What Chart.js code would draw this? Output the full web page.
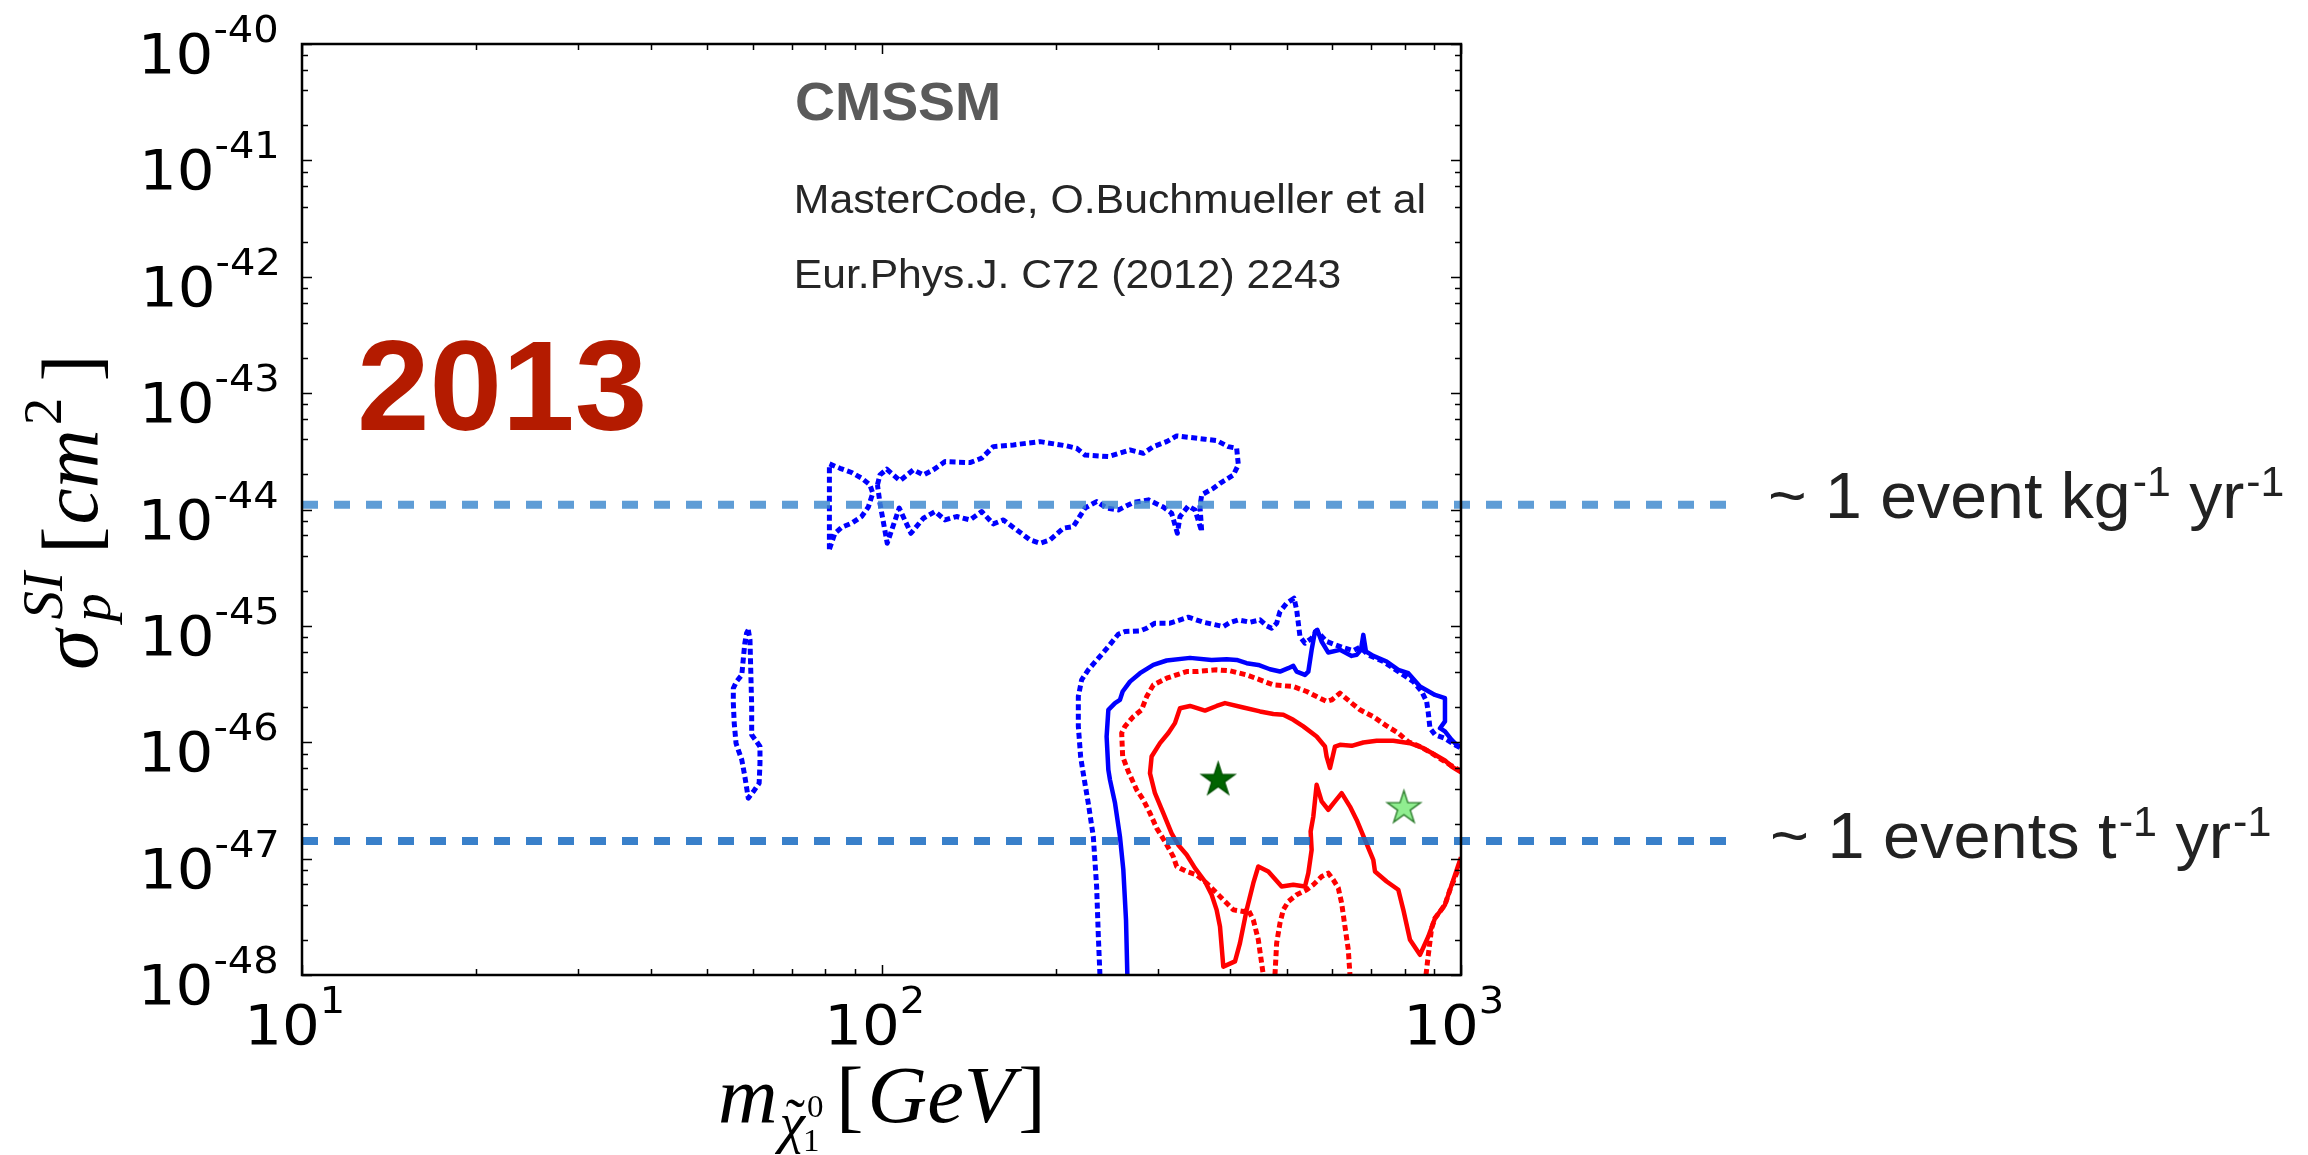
<!DOCTYPE html>
<html>
<head>
<meta charset="utf-8">
<title>CMSSM spin-independent cross section</title>
<style>
  html, body { margin: 0; padding: 0; background: #ffffff; }
  canvas { display: block; }
</style>
<script src="https://cdn.jsdelivr.net/npm/chart.js@4.4.1/dist/chart.umd.min.js"></script>
</head>
<body>
<canvas id="chart" width="2308" height="1155"></canvas>
<script>
// ---------------- axes ----------------
const massRange  = [10, 1000];          // neutralino mass, GeV
const sigmaRange = [1e-48, 1e-40];      // sigma_p^SI, cm^2
const xTickPowers = [1, 2, 3];
const yTickPowers = [-40, -41, -42, -43, -44, -45, -46, -47, -48];

// ---------------- experimental sensitivity levels (cm^2) ----------------
const rateLevels = [1.1e-44, 1.42e-47];
const rateLabels = [
  ['~ 1 event kg', '-1', ' yr', '-1'],
  ['~ 1 events t', '-1', ' yr', '-1']
];

// ---------------- best-fit points [GeV, cm^2] ----------------
const bestFit      = [381, 4.75e-47];
const bestFitOther = [797, 2.72e-47];

// ---------------- contours [GeV, cm^2] ----------------
// 95% CL (blue, dotted): small island near m ~ 60 GeV
const blue95Light = [[58.9,9.24e-46],[59.3,7.58e-46],[59.5,3.92e-46],[59.7,2.03e-46],[59.7,1.16e-46],[60.9,1.01e-46],
  [61.7,9.19e-47],[61.7,6.61e-47],[61.5,4.45e-47],[60.1,3.77e-47],[58.9,3.31e-47],[58.1,5.08e-47],[57.4,7.06e-47],
  [56.6,8.60e-47],[56.1,9.82e-47],[55.7,1.46e-46],[55.5,2.17e-46],[55.5,2.91e-46],[56.2,3.32e-46],[57.4,3.79e-46],
  [57.8,5.45e-46],[58.1,7.10e-46],[58.5,8.65e-46],[58.9,9.24e-46]];

// 95% CL (blue, dotted): upper island, left lobe
const blue95UpperLobe = [[81.3,4.56e-45],[81.3,2.47e-44],[84.8,2.26e-44],[88.8,2.08e-44],[92.4,1.86e-44],[95.5,1.63e-44],
  [96.6,1.38e-44],[94.9,1.05e-44],[92.4,8.70e-45],[88.8,7.62e-45],[85.4,7.04e-45],[83.1,6.25e-45],[81.3,4.56e-45]];

// 95% CL (blue, dotted): upper island, main body
const blue95Upper = [[98.4,1.63e-44],[99.4,1.98e-44],[102.1,2.22e-44],[107.6,1.77e-44],[113.5,2.19e-44],[118.1,1.98e-44],
  [122.8,2.19e-44],[128.7,2.58e-44],[142.1,2.53e-44],[148.9,2.76e-44],[155.9,3.47e-44],[168.9,3.59e-44],[187.7,3.83e-44],
  [208.7,3.52e-44],[217.1,3.36e-44],[224.5,2.94e-44],[246.3,2.85e-44],[268.4,3.25e-44],[283.0,3.04e-44],[294.5,3.47e-44],
  [310.5,3.83e-44],[323.1,4.29e-44],[361.6,4.02e-44],[378.8,3.91e-44],[396.7,3.47e-44],[410.1,3.36e-44],[412.8,2.42e-44],
  [404.7,1.98e-44],[383.8,1.68e-44],[373.8,1.52e-44],[356.9,1.34e-44],[354.5,1.06e-44],[356.9,6.46e-45],[347.5,9.92e-45],
  [338.4,1.07e-44],[327.4,8.70e-45],[324.0,6.25e-45],[316.7,9.29e-45],[306.4,1.05e-44],[288.7,1.21e-44],[272.0,1.15e-44],
  [256.3,9.92e-45],[244.7,1.03e-44],[235.1,1.17e-44],[224.5,1.03e-44],[214.3,7.14e-45],[205.9,6.91e-45],[195.3,5.48e-45],
  [187.7,5.13e-45],[180.4,5.48e-45],[171.1,6.68e-45],[162.3,8.14e-45],[155.9,7.52e-45],[148.9,9.60e-45],[142.1,8.14e-45],
  [134.8,8.70e-45],[128.7,8.14e-45],[123.7,9.60e-45],[118.1,8.41e-45],[112.4,6.25e-45],[107.3,1.03e-44],[102.3,5.13e-45],
  [99.4,1.13e-44],[98.4,1.63e-44]];

// 95% CL (blue, dotted): main region
const blue95Main = [[238.2,1.0e-48],[236.7,2.14e-48],[235.1,5.76e-48],[232.0,1.55e-47],[227.4,3.00e-47],[222.4,5.79e-47],
  [220.6,7.54e-47],[218.6,1.37e-46],[218.6,2.47e-46],[221.5,3.44e-46],[227.4,4.19e-46],[236.7,5.27e-46],[246.3,6.64e-46],
  [256.2,8.48e-46],[263.1,8.94e-46],[279.3,9.06e-46],[286.8,9.55e-46],[296.4,1.054e-45],[314.6,1.054e-45],[338.4,1.187e-45],
  [359.2,1.075e-45],[388.9,9.87e-46],[399.3,1.068e-45],[412.8,1.126e-45],[432.4,1.075e-45],[449.9,1.126e-45],[462.0,1.00e-45],
  [471.2,9.55e-46],[480.7,1.054e-45],[487.1,1.328e-45],[500.2,1.565e-45],[515.0,1.729e-45],[520.5,1.373e-45],[527.4,8.10e-46],
  [538.0,7.10e-46],[552.4,7.83e-46],[563.5,9.06e-46],[586.3,7.34e-46],[622.4,6.56e-46],[651.9,6.14e-46],[669.4,6.56e-46],
  [691.9,5.63e-46],[734.4,4.94e-46],[764.2,4.33e-46],[795.2,3.79e-46],[827.4,3.32e-46],[855.2,2.73e-46],[872.4,2.24e-46],
  [878.2,1.78e-46],[884.0,1.32e-46],[901.8,1.16e-46],[938.3,1.08e-46],[982.9,9.31e-47],[1000,8.89e-47]];

// 68% CL (blue, solid)
const blue68Main = [[265.6,1.0e-48],[264.2,2.98e-48],[261.4,8.01e-48],[257.9,1.55e-47],[252.9,3.00e-47],[247.9,4.75e-47],
  [246.3,5.79e-47],[244.6,1.12e-46],[246.3,1.90e-46],[252.9,2.17e-46],[257.9,2.31e-46],[260.7,2.73e-46],[268.4,3.32e-46],
  [279.3,3.92e-46],[294.5,4.62e-46],[310.5,5.04e-46],[340.7,5.31e-46],[371.3,5.10e-46],[394.1,5.17e-46],[410.1,5.10e-46],
  [426.7,4.78e-46],[446.9,4.62e-46],[468.1,4.24e-46],[487.1,4.05e-46],[503.5,4.33e-46],[513.6,4.53e-46],[520.5,4.05e-46],
  [538.0,3.79e-46],[545.2,4.05e-46],[552.4,6.22e-46],[559.8,8.94e-46],[565.0,9.24e-46],[574.8,7.34e-46],[590.2,5.90e-46],
  [618.2,6.22e-46],[647.6,5.52e-46],[660.6,5.63e-46],[672.0,6.22e-46],[678.3,8.37e-46],[685.5,6.02e-46],[705.8,5.52e-46],
  [744.2,4.94e-46],[779.5,4.19e-46],[811.1,3.92e-46],[849.6,3.01e-46],[901.8,2.55e-46],[938.3,2.39e-46],[938.3,1.51e-46],
  [919.9,1.32e-46],[938.3,1.24e-46],[963.5,1.05e-46],[982.9,9.50e-47],[1000,9.19e-47]];

// 95% CL (red, dotted): main arc and two arcs rising from the lower edge
const red95Main = [[1000,5.65e-47],[938.3,6.8e-47],[889.9,8.05e-47],[849.6,9.19e-47],[811.1,1.01e-46],[779.5,1.20e-46],
  [744.2,1.38e-46],[705.8,1.66e-46],[669.4,1.90e-46],[647.6,2.17e-46],[618.2,2.64e-46],[598.1,2.31e-46],[586.3,2.24e-46],
  [563.5,2.47e-46],[541.6,2.73e-46],[513.6,3.01e-46],[474.4,3.11e-46],[449.9,3.44e-46],[426.7,3.79e-46],[399.3,4.11e-46],
  [378.7,4.19e-46],[349.8,4.05e-46],[336.2,4.05e-46],[310.5,3.55e-46],[294.5,3.11e-46],[286.8,2.47e-46],[281.1,1.90e-46],
  [272.0,1.66e-46],[263.1,1.37e-46],[259.7,1.20e-46],[260.7,7.54e-47],[266.6,5.61e-47],[275.6,3.90e-47],[283.0,3.20e-47],
  [290.6,2.46e-47],[298.4,1.83e-47],[308.4,1.40e-47],[318.8,1.04e-47],[323.1,8.56e-48],[336.2,7.75e-48],[349.8,7.26e-48],
  [364.0,6.15e-48],[383.8,4.73e-48],[404.7,3.63e-48],[421.1,3.51e-48],[429.5,3.63e-48],[438.1,2.98e-48],[446.9,2.01e-48],
  [455.9,1.0e-48]];
const red95ArcMid = [[477.5,1.0e-48],[480.7,1.88e-48],[487.1,2.79e-48],[493.6,3.63e-48],[503.5,4.28e-48],[520.5,4.89e-48],
  [541.6,5.40e-48],[556.1,5.96e-48],[574.8,7.02e-48],[590.2,7.50e-48],[602.1,6.57e-48],[614.2,5.58e-48],[622.4,4.14e-48],
  [630.6,2.61e-48],[639.0,1.65e-48],[643.3,1.0e-48]];
const red95ArcRight = [[870.1,1.0e-48],[878.2,1.49e-48],[889.9,2.53e-48],[901.8,3.08e-48],[938.3,4.01e-48],[957.2,5.40e-48],
  [982.9,7.50e-48],[1000,9.14e-48]];

// 68% CL (red, solid)
const red68Main = [[1000,5.5e-47],[963.5,6.19e-47],[938.3,6.97e-47],[901.8,7.80e-47],[860.9,8.89e-47],[816.5,9.82e-47],
  [764.2,1.03e-46],[715.2,1.03e-46],[678.3,9.95e-47],[647.6,9.31e-47],[618.2,9.50e-47],[606.1,9.19e-47],[594.2,6.0e-47],
  [586.3,7.54e-47],[582.5,9.19e-47],[563.5,1.12e-46],[534.4,1.37e-46],[513.6,1.56e-46],[493.6,1.72e-46],[474.4,1.75e-46],
  [449.9,1.84e-46],[421.1,1.99e-46],[391.5,2.17e-46],[378.7,2.05e-46],[361.6,1.87e-46],[340.7,2.05e-46],[327.4,1.96e-46],
  [320.9,1.46e-46],[312.6,1.20e-46],[302.4,9.82e-47],[292.5,7.54e-47],[290.6,5.42e-47],[296.4,3.65e-47],[306.4,2.46e-47],
  [316.7,1.65e-47],[325.2,1.31e-47],[336.2,1.08e-47],[347.5,8.28e-48],[361.6,6.36e-48],[371.3,4.89e-48],[378.7,3.63e-48],
  [383.8,2.61e-48],[388.9,1.18e-48],[407.4,1.31e-48],[415.5,1.88e-48],[426.7,3.63e-48],[438.1,6.15e-48],[446.9,8.56e-48],
  [465.0,7.75e-48],[490.3,5.76e-48],[513.6,5.96e-48],[538.0,5.76e-48],[545.2,7.50e-48],[552.4,1.19e-47],[550.2,1.71e-47],
  [556.1,2.30e-47],[563.5,4.31e-47],[574.8,3.10e-47],[590.2,2.63e-47],[606.1,3.10e-47],[622.4,3.65e-47],[643.3,2.80e-47],
  [660.6,2.15e-47],[682.8,1.45e-47],[705.8,9.76e-48],[710.5,7.75e-48],[744.2,6.36e-48],[779.5,5.40e-48],[795.2,3.63e-48],
  [816.5,2.01e-48],[849.6,1.49e-48],[878.2,2.14e-48],[901.8,3.08e-48],[938.3,4.01e-48],[969.9,6.57e-48],[1000,1.03e-47]];

// ---------------- styling helpers ----------------
const BLUE = '#0000ff', RED = '#ff0000';
const asPoints = arr => arr.map(([x, y]) => ({ x, y }));

function contour(points, color, dotted) {
  return {
    data: asPoints(points), showLine: true,
    borderColor: color, backgroundColor: color,
    borderWidth: dotted ? 5 : 4.5, borderDash: dotted ? [6, 3.5] : [],
    borderJoinStyle: 'round', borderCapStyle: 'butt',
    pointRadius: 0, pointHoverRadius: 0, tension: 0, fill: false,
    clip: 0, order: 3
  };
}

function rateLine(level, color) {
  // the dashed guide runs past the right spine to its text label
  return {
    data: [{ x: massRange[0], y: level }, { x: 2880, y: level }], showLine: true,
    borderColor: color, borderWidth: 8, borderDash: [16, 16], borderCapStyle: 'butt',
    pointRadius: 0, pointHoverRadius: 0, tension: 0, fill: false, clip: false, order: 1
  };
}

function starImage(fill, stroke, r) {
  const s = Math.ceil(2 * r + 6);
  const c = document.createElement('canvas');
  c.width = c.height = s;
  const g = c.getContext('2d');
  g.translate(s / 2, s / 2);
  g.beginPath();
  for (let i = 0; i < 10; i++) {
    const rr = i % 2 ? r * 0.382 : r;
    const a = -Math.PI / 2 + i * Math.PI / 5;
    g.lineTo(rr * Math.cos(a), rr * Math.sin(a));
  }
  g.closePath();
  g.fillStyle = fill; g.fill();
  g.lineWidth = 1.4; g.strokeStyle = stroke; g.lineJoin = 'miter'; g.stroke();
  return c;
}

function starSet(p, img) {
  return { data: [{ x: p[0], y: p[1] }], showLine: false, pointStyle: img,
           pointRadius: 18, pointHoverRadius: 18, order: 0 };
}

// ---------------- text helpers ----------------
function layoutRuns(ctx, runs) {
  let cur = 0, prevStart = 0;
  const out = [];
  for (const r of runs) {
    ctx.font = r.font;
    const m = ctx.measureText(r.t);
    const x = (r.stack ? prevStart : cur) + (r.dx || 0);
    out.push({ ...r, x, inkL: x - m.actualBoundingBoxLeft, inkR: x + m.actualBoundingBoxRight });
    if (r.stack) cur = Math.max(cur, x + m.width);
    else { prevStart = x; cur = x + m.width; }
  }
  return {
    out,
    inkL: Math.min(...out.map(o => o.inkL)),
    inkR: Math.max(...out.map(o => o.inkR))
  };
}

// draws runs so that their ink spans [left, right] along the baseline
function fitRuns(ctx, runs, left, right, baseline, color) {
  const L = layoutRuns(ctx, runs);
  const sx = (right - left) / (L.inkR - L.inkL);
  ctx.save();
  ctx.translate(left, baseline);
  ctx.scale(sx, 1);
  ctx.translate(-L.inkL, 0);
  ctx.fillStyle = color;
  ctx.textBaseline = 'alphabetic';
  ctx.textAlign = 'left';
  for (const o of L.out) { ctx.font = o.font; ctx.fillText(o.t, o.x, o.dy || 0); }
  ctx.restore();
}

// power-of-ten label, ink anchored at (x) by 'right' or 'center'
const TICK_BASE = '55px "DejaVu Sans"', TICK_SUP = '37px "DejaVu Sans"', TICK_SX = 1.08;
function powerLabel(ctx, p, x, baseline, anchor) {
  const runs = [{ t: '10', font: TICK_BASE, dy: 0 }, { t: String(p), font: TICK_SUP, dy: -31 }];
  const L = layoutRuns(ctx, runs);
  const w = (L.inkR - L.inkL) * TICK_SX;
  const left = anchor === 'right' ? x - w : x - w / 2;
  fitRuns(ctx, runs, left, left + w, baseline, '#000000');
}

// ---------------- frame, ticks, labels ----------------
const framePlugin = {
  id: 'frame',
  afterDatasetsDraw(chart) {
    const { ctx, chartArea: a, scales: { x, y } } = chart;
    ctx.save();
    ctx.strokeStyle = '#000000';
    ctx.lineWidth = 1.5;
    ctx.beginPath();
    // x ticks: major at decades, minor at 2..9
    for (let d = 1; d <= 3; d++) {
      for (let k = 1; k <= 9; k++) {
        const v = Number(k + 'e' + d);
        if (v < massRange[0] || v > massRange[1]) continue;
        const px = Math.round(x.getPixelForValue(v)) + 0.5;
        const len = k === 1 ? 10 : 6;
        ctx.moveTo(px, a.bottom); ctx.lineTo(px, a.bottom - len);
        ctx.moveTo(px, a.top);    ctx.lineTo(px, a.top + len);
      }
    }
    // y ticks: major at decades, minor at 2,4,6,8
    for (let e = -48; e <= -40; e++) {
      for (const k of [1, 2, 4, 6, 8]) {
        const v = Number(k + 'e' + e);
        if (v < sigmaRange[0] || v > sigmaRange[1]) continue;
        const py = Math.round(y.getPixelForValue(v)) + 0.5;
        const len = k === 1 ? 10 : 6;
        ctx.moveTo(a.left, py);  ctx.lineTo(a.left + len, py);
        ctx.moveTo(a.right, py); ctx.lineTo(a.right - len, py);
      }
    }
    ctx.stroke();
    ctx.lineWidth = 2.5;
    ctx.strokeRect(a.left, a.top, a.right - a.left, a.bottom - a.top);
    ctx.restore();
  },
  afterDraw(chart) {
    const { ctx, chartArea: a, scales: { x, y } } = chart;
    ctx.save();

    // tick labels
    for (const p of yTickPowers) {
      const py = y.getPixelForValue(Number('1e' + p));
      powerLabel(ctx, p, a.left - 25, py + 29, 'right');
    }
    for (const p of xTickPowers) {
      const px = x.getPixelForValue(Math.pow(10, p));
      powerLabel(ctx, p, px - 5.5, a.bottom + 69, 'center');
    }

    // x axis title: m_{chi~_1^0} [GeV]
    const S = '"Liberation Serif"';
    fitRuns(ctx, [
      { t: 'm', font: `italic 80px ${S}` },
      { t: '\u03C7', font: `italic 56px ${S}`, dy: 20, dx: 2 },
      { t: '\u02DC', font: `56px ${S}`, dy: 16, dx: 6, stack: true },
      { t: '0', font: `32px ${S}`, dy: -5, dx: 2 },
      { t: '1', font: `32px ${S}`, dy: 29, dx: -4, stack: true },
      { t: '[', font: `80px ${S}`, dx: 12 },
      { t: 'GeV', font: `italic 80px ${S}`, dx: 4 },
      { t: ']', font: `80px ${S}`, dx: 4 }
    ], 720, 1040, 1122, '#000000');

    // y axis title: sigma_p^SI [cm^2]
    ctx.save();
    ctx.translate(97, 668);
    ctx.rotate(-Math.PI / 2);
    fitRuns(ctx, [
      { t: '\u03C3', font: `italic 80px ${S}` },
      { t: 'SI', font: `italic 56px ${S}`, dy: -35, dx: 10 },
      { t: 'p', font: `italic 56px ${S}`, dy: 13, dx: -2, stack: true },
      { t: '[', font: `80px ${S}`, dx: 18 },
      { t: 'cm', font: `italic 80px ${S}`, dx: 2 },
      { t: '2', font: `54px ${S}`, dy: -36, dx: 4 },
      { t: ']', font: `80px ${S}`, dx: 16 }
    ], 0, 308, 0, '#000000');
    ctx.restore();

    // in-plot annotations
    const SANS = '"Liberation Sans"';
    fitRuns(ctx, [{ t: 'CMSSM', font: `bold 53px ${SANS}` }], 797, 998, 120, '#5a5a5a');
    fitRuns(ctx, [{ t: 'MasterCode, O.Buchmueller et al', font: `40px ${SANS}` }], 797, 1424, 213, '#262626');
    fitRuns(ctx, [{ t: 'Eur.Phys.J. C72 (2012) 2243', font: `40px ${SANS}` }], 797, 1340, 288, '#262626');
    fitRuns(ctx, [{ t: '2013', font: `bold 128px ${SANS}` }], 361, 643, 430, '#b41b00');

    // sensitivity labels beside the dashed guides
    const spans = [[1770, 2283, 13], [1772, 2270, 17]];
    rateLevels.forEach((lvl, i) => {
      const py = y.getPixelForValue(lvl);
      const [l, r, off] = spans[i];
      const parts = rateLabels[i];
      fitRuns(ctx, [
        { t: parts[0], font: `65px ${SANS}` },
        { t: parts[1], font: `42px ${SANS}`, dy: -22, dx: 2 },
        { t: parts[2], font: `65px ${SANS}` },
        { t: parts[3], font: `42px ${SANS}`, dy: -22, dx: 2 }
      ], l, r, py + off, '#222222');
    });
    ctx.restore();
  }
};

// ---------------- chart ----------------
function build() {
  const datasets = [
    starSet(bestFit, starImage('#006400', '#005000', 17.5)),
    starSet(bestFitOther, starImage('#90ee90', '#2e7d2e', 17.5)),
    rateLine(rateLevels[0], 'rgba(60,135,205,0.82)'),
    rateLine(rateLevels[1], 'rgba(30,110,195,0.88)'),
    contour(blue95Light, BLUE, true),
    contour(blue95UpperLobe, BLUE, true),
    contour(blue95Upper, BLUE, true),
    contour(blue95Main, BLUE, true),
    contour(blue68Main, BLUE, false),
    contour(red95Main, RED, true),
    contour(red95ArcMid, RED, true),
    contour(red95ArcRight, RED, true),
    contour(red68Main, RED, false)
  ];

  new Chart(document.getElementById('chart'), {
    type: 'scatter',
    data: { datasets },
    options: {
      responsive: false,
      animation: false,
      devicePixelRatio: 1,
      events: [],
      layout: { padding: { left: 302, top: 44, right: 847, bottom: 180 } },
      plugins: { legend: { display: false }, tooltip: { enabled: false } },
      scales: {
        x: { type: 'logarithmic', min: massRange[0], max: massRange[1], display: false },
        y: { type: 'logarithmic', min: sigmaRange[0], max: sigmaRange[1], display: false }
      }
    },
    plugins: [framePlugin]
  });
}

const fontsToLoad = [
  '55px "DejaVu Sans"', 'italic 80px "Liberation Serif"', '80px "Liberation Serif"',
  '40px "Liberation Sans"', 'bold 53px "Liberation Sans"'
];
Promise.all(fontsToLoad.map(f => document.fonts.load(f).catch(() => null)))
  .then(build, build);
</script>
</body>
</html>
